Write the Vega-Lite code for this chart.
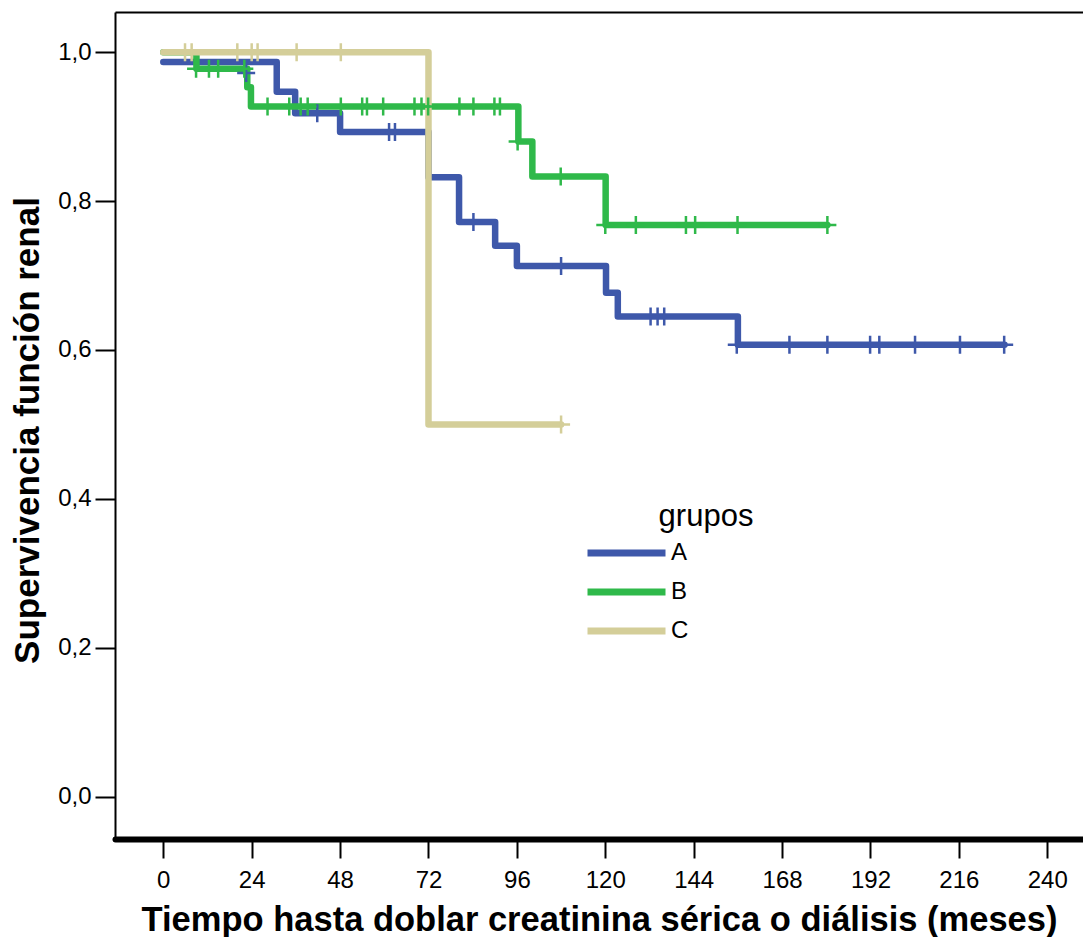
{
  "$schema": "https://vega.github.io/schema/vega-lite/v6.json",
  "width": 968,
  "height": 827,
  "autosize": {"type": "none"},
  "padding": {"left": 115, "top": 12, "right": 0, "bottom": 98},
  "background": "white",
  "config": {
    "view": {"stroke": null},
    "font": "Liberation Sans",
    "axis": {
      "labelFont": "Liberation Sans",
      "titleFont": "Liberation Sans",
      "labelColor": "black",
      "titleColor": "black",
      "tickColor": "black",
      "domainColor": "black",
      "grid": false
    }
  },
  "datasets": {
    "curves": [
      {"grupo": "A", "t": 0, "s": 0.987},
      {"grupo": "A", "t": 30.8, "s": 0.947},
      {"grupo": "A", "t": 35.8, "s": 0.918},
      {"grupo": "A", "t": 48.0, "s": 0.893},
      {"grupo": "A", "t": 72.0, "s": 0.832},
      {"grupo": "A", "t": 80.3, "s": 0.772},
      {"grupo": "A", "t": 90.1, "s": 0.740},
      {"grupo": "A", "t": 96.0, "s": 0.713},
      {"grupo": "A", "t": 120.2, "s": 0.677},
      {"grupo": "A", "t": 123.4, "s": 0.645},
      {"grupo": "A", "t": 156.0, "s": 0.607},
      {"grupo": "A", "t": 228.4, "s": 0.607},
      {"grupo": "B", "t": 0, "s": 1.0},
      {"grupo": "B", "t": 9.0, "s": 0.978},
      {"grupo": "B", "t": 22.8, "s": 0.953},
      {"grupo": "B", "t": 23.8, "s": 0.927},
      {"grupo": "B", "t": 96.4, "s": 0.880},
      {"grupo": "B", "t": 100.2, "s": 0.833},
      {"grupo": "B", "t": 120.1, "s": 0.768},
      {"grupo": "B", "t": 180.3, "s": 0.768},
      {"grupo": "C", "t": 0, "s": 1.0},
      {"grupo": "C", "t": 72.0, "s": 0.5},
      {"grupo": "C", "t": 108.0, "s": 0.5}
    ],
    "censors": [
      {"grupo": "A", "t": 22.5, "s": 0.972},
      {"grupo": "A", "t": 41.8, "s": 0.918},
      {"grupo": "A", "t": 61.3, "s": 0.893},
      {"grupo": "A", "t": 62.9, "s": 0.893},
      {"grupo": "A", "t": 84.2, "s": 0.772},
      {"grupo": "A", "t": 108.0, "s": 0.713},
      {"grupo": "A", "t": 132.3, "s": 0.645},
      {"grupo": "A", "t": 134.2, "s": 0.645},
      {"grupo": "A", "t": 136.0, "s": 0.645},
      {"grupo": "A", "t": 155.7, "s": 0.607},
      {"grupo": "A", "t": 170.0, "s": 0.607},
      {"grupo": "A", "t": 180.3, "s": 0.607},
      {"grupo": "A", "t": 191.9, "s": 0.607},
      {"grupo": "A", "t": 194.4, "s": 0.607},
      {"grupo": "A", "t": 204.1, "s": 0.607},
      {"grupo": "A", "t": 216.3, "s": 0.607},
      {"grupo": "A", "t": 228.3, "s": 0.607},
      {"grupo": "B", "t": 8.9, "s": 0.978},
      {"grupo": "B", "t": 12.4, "s": 0.978},
      {"grupo": "B", "t": 14.9, "s": 0.978},
      {"grupo": "B", "t": 22.0, "s": 0.978},
      {"grupo": "B", "t": 28.3, "s": 0.927},
      {"grupo": "B", "t": 34.2, "s": 0.927},
      {"grupo": "B", "t": 37.3, "s": 0.927},
      {"grupo": "B", "t": 39.2, "s": 0.927},
      {"grupo": "B", "t": 48.2, "s": 0.927},
      {"grupo": "B", "t": 54.0, "s": 0.927},
      {"grupo": "B", "t": 55.3, "s": 0.927},
      {"grupo": "B", "t": 59.7, "s": 0.927},
      {"grupo": "B", "t": 68.2, "s": 0.927},
      {"grupo": "B", "t": 70.1, "s": 0.927},
      {"grupo": "B", "t": 71.9, "s": 0.927},
      {"grupo": "B", "t": 80.4, "s": 0.927},
      {"grupo": "B", "t": 84.2, "s": 0.927},
      {"grupo": "B", "t": 89.9, "s": 0.927},
      {"grupo": "B", "t": 91.4, "s": 0.927},
      {"grupo": "B", "t": 96.2, "s": 0.880},
      {"grupo": "B", "t": 107.9, "s": 0.833},
      {"grupo": "B", "t": 120.0, "s": 0.768},
      {"grupo": "B", "t": 128.3, "s": 0.768},
      {"grupo": "B", "t": 141.9, "s": 0.768},
      {"grupo": "B", "t": 144.4, "s": 0.768},
      {"grupo": "B", "t": 155.9, "s": 0.768},
      {"grupo": "B", "t": 180.3, "s": 0.768},
      {"grupo": "C", "t": 5.9, "s": 1.0},
      {"grupo": "C", "t": 7.7, "s": 1.0},
      {"grupo": "C", "t": 20.1, "s": 1.0},
      {"grupo": "C", "t": 24.0, "s": 1.0},
      {"grupo": "C", "t": 25.6, "s": 1.0},
      {"grupo": "C", "t": 36.2, "s": 1.0},
      {"grupo": "C", "t": 48.2, "s": 1.0},
      {"grupo": "C", "t": 108.0, "s": 0.5}
    ]
  },
  "layer": [
    {
      "data": {"name": "curves"},
      "mark": {"type": "line", "interpolate": "step-after", "strokeWidth": 6.5, "strokeJoin": "round", "strokeCap": "round"},
      "encoding": {
        "x": {
          "field": "t", "type": "quantitative",
          "scale": {"domain": [-13.11, 249.7], "nice": false, "zero": false},
          "axis": {
            "orient": "bottom",
            "values": [0, 24, 48, 72, 96, 120, 144, 168, 192, 216, 240],
            "title": "Tiempo hasta doblar creatinina sérica o diálisis (meses)",
            "titleFontSize": 34.5, "titleFontWeight": "bold",
            "labelFontSize": 24, "labelPadding": 10, "titlePadding": 11,
            "tickSize": 19, "tickWidth": 2,
            "domainWidth": 6, "domainCap": "round",
            "labelFlush": false, "labelOverlap": false
          }
        },
        "y": {
          "field": "s", "type": "quantitative",
          "scale": {"domain": [-0.057, 1.0541], "nice": false, "zero": false},
          "axis": {
            "title": "Supervivencia función renal",
            "values": [0, 0.2, 0.4, 0.6, 0.8, 1.0],
            "labelExpr": "replace(format(datum.value, '.1f'), '.', ',')",
            "titleFontSize": 35, "titleFontWeight": "bold", "titleY": 418,
            "labelFontSize": 24, "labelPadding": 4, "titlePadding": 12,
            "tickSize": 20, "tickWidth": 2, "domainWidth": 2,
            "labelFlush": false, "labelOverlap": false
          }
        },
        "color": {
          "field": "grupo", "type": "nominal",
          "scale": {"domain": ["A", "B", "C"], "range": ["#3e58aa", "#2fb94a", "#d4ce99"]},
          "legend": {
            "title": "grupos",
            "orient": "none", "legendX": 469, "legendY": 490,
            "direction": "vertical",
            "padding": 0,
            "symbolType": "stroke", "symbolStrokeWidth": 7, "symbolSize": 6084,
            "clipHeight": 24,
            "labelFont": "Liberation Sans", "labelFontSize": 24, "labelColor": "black",
            "labelOffset": 2,
            "labelExpr": "datum.label + '  \u2009\u200b'",
            "titleFont": "Liberation Sans", "titleFontSize": 31, "titleFontWeight": "normal", "titleColor": "black",
            "titleAnchor": "end", "titleAlign": "center",
            "titlePadding": 8, "rowPadding": 15
          }
        }
      }
    },
    {
      "data": {"name": "censors"},
      "mark": {"type": "point", "shape": "M0,-1V1M-1,0H1", "filled": false, "strokeWidth": 2.5, "size": 324, "opacity": 1},
      "encoding": {
        "x": {
          "field": "t", "type": "quantitative",
          "scale": {"domain": [-13.11, 249.7], "nice": false, "zero": false},
          "axis": {"orient": "top", "labels": false, "ticks": false, "title": null, "domainWidth": 2, "domainColor": "black"}
        },
        "y": {
          "field": "s", "type": "quantitative",
          "axis": {
            "title": "Supervivencia función renal",
            "values": [0, 0.2, 0.4, 0.6, 0.8, 1.0],
            "labelExpr": "replace(format(datum.value, '.1f'), '.', ',')",
            "titleFontSize": 35, "titleFontWeight": "bold", "titleY": 418,
            "labelFontSize": 24, "labelPadding": 4, "titlePadding": 12,
            "tickSize": 20, "tickWidth": 2, "domainWidth": 2,
            "labelFlush": false, "labelOverlap": false
          }
        },
        "color": {
          "field": "grupo", "type": "nominal",
          "scale": {"domain": ["A", "B", "C"], "range": ["#3e58aa", "#2fb94a", "#d4ce99"]},
          "legend": null
        }
      }
    }
  ],
  "resolve": {"axis": {"x": "independent"}}
}
